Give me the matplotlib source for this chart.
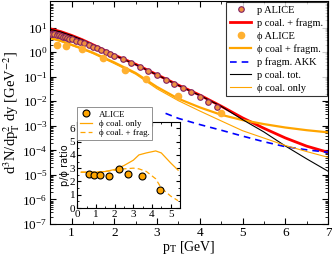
import matplotlib
matplotlib.use('Agg')
import matplotlib.pyplot as plt
from matplotlib.ticker import LogLocator, MultipleLocator, NullFormatter

plt.rcParams['font.family'] = ['Liberation Serif', 'DejaVu Serif']
plt.rcParams['mathtext.fontset'] = 'stix'

# p ALICE spectrum
p_pt = [0.45, 0.50, 0.55, 0.60, 0.65, 0.70, 0.75, 0.80, 0.85, 0.90, 0.95, 1.00,
        1.10, 1.20, 1.30, 1.40, 1.50, 1.60, 1.70, 1.80, 1.90, 2.00, 2.20, 2.40,
        2.60, 2.80, 3.00, 3.20, 3.40, 3.60, 3.80, 4.00, 4.20, 4.40]
p_val = [5.50, 5.37, 5.37, 5.25, 5.01, 4.79, 4.57, 4.27, 4.07, 3.80, 3.55, 3.31,
         2.95, 2.63, 2.29, 1.95, 1.66, 1.41, 1.17, 1.00, 0.83, 0.69, 0.50, 0.355,
         0.251, 0.170, 0.112, 0.0759, 0.0501, 0.0339, 0.0234, 0.0151, 0.00955, 0.00603]

# phi ALICE spectrum
phi_pt = [0.65, 0.88, 1.24, 1.73, 2.25, 2.74, 3.50, 4.50]
phi_val = [2.0, 1.7, 1.3, 0.6, 0.195, 0.078, 0.016, 0.0032]

# model curves
c_pt = [0.5, 0.75, 1.0, 1.25, 1.5, 2.0, 2.5, 3.0, 3.5, 4.0, 4.5, 5.0, 5.5, 6.0, 6.5, 7.0]
p_fragm = [8.9, 6.8, 4.8, 3.2, 2.0, 0.76, 0.32, 0.12, 0.045, 0.0178, 0.0063,
           0.0021, 0.00079, 0.00032, 0.000148, 0.000083]
p_tot = [8.5, 6.6, 4.7, 3.15, 1.98, 0.75, 0.31, 0.118, 0.044, 0.0172, 0.0062,
         0.00178, 0.00056, 0.000151, 0.000045, 0.0000141]
phi_fragm = [3.8, 2.9, 2.0, 1.4, 0.95, 0.38, 0.141, 0.038, 0.0126, 0.0056, 0.0028,
             0.0017, 0.00117, 0.00085, 0.00066, 0.00054]
phi_coal = [3.55, 2.7, 1.86, 1.3, 0.87, 0.34, 0.126, 0.032, 0.0105, 0.004, 0.00158,
            0.00063, 0.000316, 0.000158, 0.000089, 0.000052]
akk_pt = [3.2, 3.5, 4.0, 4.5, 5.0, 5.5, 6.0, 6.5, 7.0]
akk_val = [0.0032, 0.002, 0.00112, 0.00066, 0.00038, 0.000224, 0.000141, 0.000105, 0.000083]

# inset: p/phi ratio
r_pt = [0.64, 0.87, 1.23, 1.70, 2.23, 2.71, 3.46, 4.42]
r_val = [2.55, 2.48, 2.45, 2.42, 2.93, 2.55, 2.40, 1.35]
rc_pt = [0.2, 0.5, 1.0, 1.5, 2.0, 2.5, 3.0, 3.3, 3.7, 4.2, 4.5, 5.0, 5.4]
rc_coal = [2.7, 2.7, 2.7, 2.75, 2.9, 3.2, 3.6, 4.0, 4.15, 4.3, 4.15, 3.4, 2.85]
rc_frag = [2.7, 2.7, 2.7, 2.75, 2.85, 2.95, 3.0, 2.95, 2.75, 2.2, 1.5, 0.9, 0.55]

fig = plt.figure(figsize=(3.32, 2.56), dpi=100)
ax = fig.add_axes([0.151, 0.125, 0.837, 0.871])

ax.plot(p_pt, p_val, 'o', ms=4, mfc='#f09040', mec='#802060', mew=0.8, label='p ALICE', zorder=5)
ax.plot(c_pt, p_fragm, color='red', lw=2.0, label='p coal. + fragm.')
ax.plot(phi_pt, phi_val, 'o', ms=4.5, mfc='#ffb030', mec='#ffb030', label='ϕ ALICE', zorder=5)
ax.plot(c_pt, phi_fragm, color='orange', lw=1.6, label='ϕ coal + fragm.')
ax.plot(akk_pt, akk_val, color='blue', lw=1.2, ls=(0, (4, 3)), label='p fragm. AKK')
ax.plot(c_pt, p_tot, color='black', lw=0.8, label='p coal. tot.')
ax.plot(c_pt, phi_coal, color='orange', lw=0.8, label='ϕ coal. only')

ax.set_yscale('log')
ax.set_xlim(0.5, 7)
ax.set_ylim(1e-7, 1.2e2)
ax.yaxis.set_major_locator(LogLocator(base=10, numticks=20))
ax.yaxis.set_minor_locator(LogLocator(base=10, subs=range(2, 10), numticks=20))
ax.yaxis.set_minor_formatter(NullFormatter())
ax.set_yticks([1e-7, 1e-6, 1e-5, 1e-4, 1e-3, 1e-2, 1e-1, 1, 1e1])
ax.xaxis.set_major_locator(MultipleLocator(1))
ax.xaxis.set_minor_locator(MultipleLocator(0.5))
ax.tick_params(which='both', direction='in', top=True, right=True, labelsize=9.5, pad=2)
ax.tick_params(which='major', length=4)
ax.tick_params(which='minor', length=2)
ax.set_xlabel('p$_\\mathrm{T}$ [GeV]', fontsize=10, labelpad=0)
ax.set_ylabel('d$^3$N/dp$_\\mathrm{T}^2$ dy [GeV$^{-2}$]', fontsize=10.5, labelpad=0)

leg = ax.legend(loc='upper right', fontsize=7.5, frameon=True, fancybox=False,
                edgecolor='black', borderaxespad=0.1, handlelength=2.0,
                labelspacing=0.33, borderpad=0.35, handletextpad=0.6)
leg.get_frame().set_linewidth(0.8)

ins = fig.add_axes([0.233, 0.1875, 0.309, 0.337])
ins.plot(rc_pt, rc_coal, color='orange', lw=0.9, label='ϕ coal. only')
ins.plot(rc_pt, rc_frag, color='orange', lw=0.9, ls=(0, (4, 2.5)), label='ϕ coal. + frag.')
ins.plot(r_pt, r_val, 'o', ms=5, mfc='#ffa500', mec='black', mew=0.8, label='ALICE', zorder=5)
ins.set_xlim(0, 5.5)
ins.set_ylim(0, 6.5)
ins.xaxis.set_major_locator(MultipleLocator(1))
ins.xaxis.set_minor_locator(MultipleLocator(0.5))
ins.yaxis.set_major_locator(MultipleLocator(1))
ins.yaxis.set_minor_locator(MultipleLocator(0.5))
ins.tick_params(which='both', direction='in', top=True, right=True, labelsize=8, pad=1.5)
ins.tick_params(which='major', length=3)
ins.tick_params(which='minor', length=1.5)
ins.set_ylabel('p/ϕ ratio', fontsize=7, family=['DejaVu Sans'], labelpad=0)
h, l = ins.get_legend_handles_labels()
ileg = ins.legend([h[2], h[0], h[1]], [l[2], l[0], l[1]], loc='upper left',
                  bbox_to_anchor=(0.0, 1.165), fontsize=6.5, frameon=True, fancybox=False,
                  edgecolor='gray', framealpha=1, handlelength=1.3, labelspacing=0.1,
                  borderpad=0.3, handletextpad=0.8, borderaxespad=0)
ileg.get_frame().set_linewidth(0.6)

fig.savefig('out.png', dpi=100)
